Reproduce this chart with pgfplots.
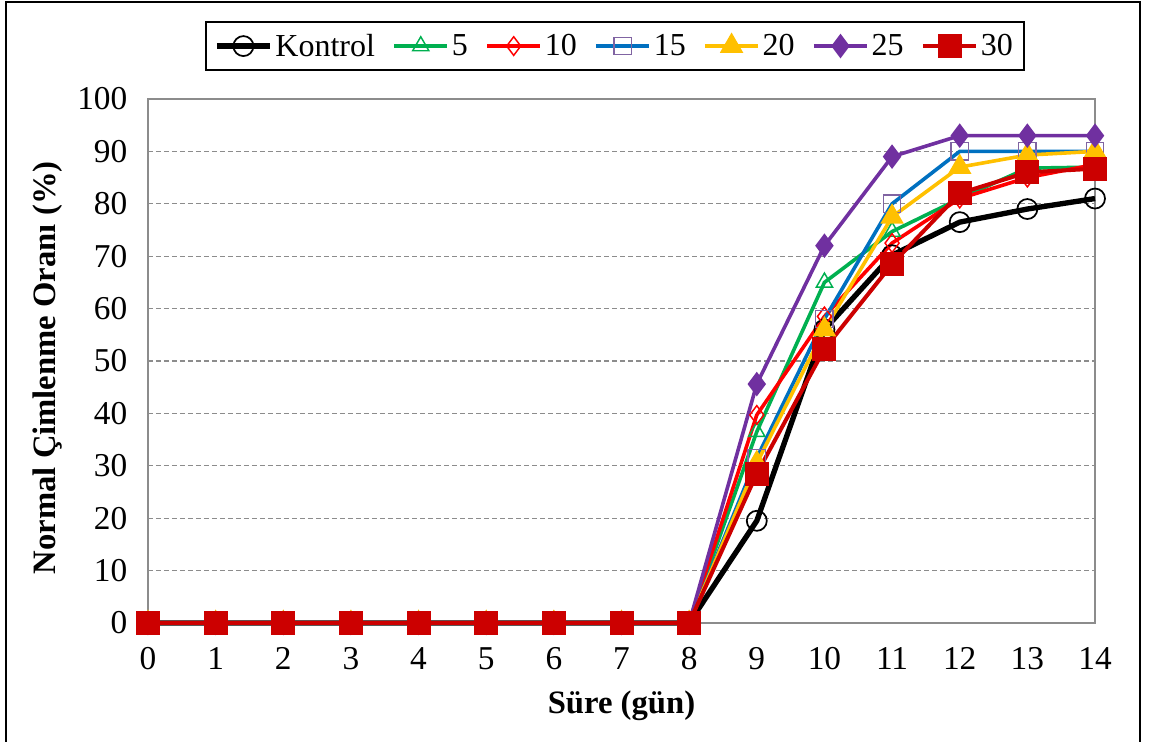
\documentclass[border=0pt]{standalone}
\usepackage{pgfplots}
\pgfplotsset{compat=1.18}
\usepackage{fontspec}
\setmainfont{Liberation Serif}
\definecolor{cgreen}{RGB}{0,176,80}
\definecolor{cred}{RGB}{255,0,0}
\definecolor{cblue}{RGB}{0,112,192}
\definecolor{cviolet}{RGB}{128,100,162}
\definecolor{cgold}{RGB}{255,192,0}
\definecolor{cpurple}{RGB}{112,48,160}
\definecolor{cdarkred}{RGB}{204,0,0}
\begin{document}
\begin{tikzpicture}
\useasboundingbox (-111pt,-89.25pt) rectangle (751.5pt,467.25pt);
\draw[black, line width=1.1pt] (-106.5pt,-95pt) rectangle (744pt,465.75pt);
\begin{axis}[
  at={(0,0)}, anchor=south west,
  scale only axis, width=710.25pt, height=393pt,
  xmin=0, xmax=14, ymin=0, ymax=100,
  xtick={0,1,...,14}, ytick={0,10,...,100},
  ymajorgrids, grid style={dash pattern=on 4pt off 2pt, gray!90, line width=0.9pt},
  axis line style={gray!90, line width=1.3pt},
  major tick length=0pt,
  tick label style={font=\fontsize{25}{29}\selectfont},
  /pgf/number format/assume math mode=true,
  yticklabel style={xshift=-12pt},
  xticklabel style={yshift=-15pt},
  xlabel={\textbf{Süre (gün)}},
  ylabel={\textbf{Normal Çimlenme Oranı (\%)}},
  label style={font=\fontsize{24.5}{28}\selectfont},
  xlabel style={at={(axis description cs:0.5,-0.158)}, anchor=center},
  ylabel style={at={(axis description cs:-0.1056,0.487)}, anchor=center},
  clip=false,
  legend columns=7,
  legend style={at={(axis description cs:0.493,1.101)}, anchor=center,
    draw=black, line width=1.3pt, font=\fontsize{24}{28}\selectfont,
    inner xsep=6pt, inner ysep=7pt,
    /tikz/every even column/.append style={column sep=11pt}},
  legend image code/.code={\draw[mark repeat=2,mark phase=2,#1] plot coordinates {(0pt,0pt) (20pt,0pt) (40pt,0pt)};},
  legend cell align=left,
]
\addplot[black, line width=4pt, mark=o, mark size=7.5pt, mark options={line width=1.3pt}] coordinates {
(0,0) (1,0) (2,0) (3,0) (4,0) (5,0) (6,0) (7,0) (8,0) (9,19.5) (10,56) (11,70.2) (12,76.5) (13,79) (14,81)};
\addlegendentry{Kontrol}
\addplot[cgreen, line width=2.7pt, mark=triangle, mark size=7pt, mark options={line width=1.1pt}] coordinates {
(0,0) (1,0) (2,0) (3,0) (4,0) (5,0) (6,0) (7,0) (8,0) (9,36.5) (10,65) (11,74.7) (12,81) (13,86.8) (14,87)};
\addlegendentry{5}
\addplot[cred, line width=2.7pt, mark=diamond, mark size=7pt, mark options={line width=1.1pt}] coordinates {
(0,0) (1,0) (2,0) (3,0) (4,0) (5,0) (6,0) (7,0) (8,0) (9,39.7) (10,58.5) (11,72.5) (12,81) (13,85) (14,87.5)};
\addlegendentry{10}
\addplot[cblue, line width=2.7pt, mark=square, mark size=6.5pt, mark options={cviolet, line width=1.1pt}] coordinates {
(0,0) (1,0) (2,0) (3,0) (4,0) (5,0) (6,0) (7,0) (8,0) (9,31.5) (10,58) (11,80) (12,90) (13,90) (14,90)};
\addlegendentry{15}
\addplot[cgold, line width=2.7pt, mark=triangle*, mark size=7.5pt] coordinates {
(0,0) (1,0) (2,0) (3,0) (4,0) (5,0) (6,0) (7,0) (8,0) (9,30.5) (10,56) (11,77.5) (12,87) (13,89.3) (14,90)};
\addlegendentry{20}
\addplot[cpurple, line width=2.7pt, mark=diamond*, mark size=7pt] coordinates {
(0,0) (1,0) (2,0) (3,0) (4,0) (5,0) (6,0) (7,0) (8,0) (9,45.6) (10,72) (11,89) (12,93) (13,93) (14,93)};
\addlegendentry{25}
\addplot[cdarkred, line width=3pt, mark=square*, mark size=7.5pt] coordinates {
(0,0) (1,0) (2,0) (3,0) (4,0) (5,0) (6,0) (7,0) (8,0) (9,28.5) (10,52.3) (11,68.5) (12,82) (13,86) (14,86.7)};
\addlegendentry{30}
\end{axis}
\end{tikzpicture}
\end{document}
